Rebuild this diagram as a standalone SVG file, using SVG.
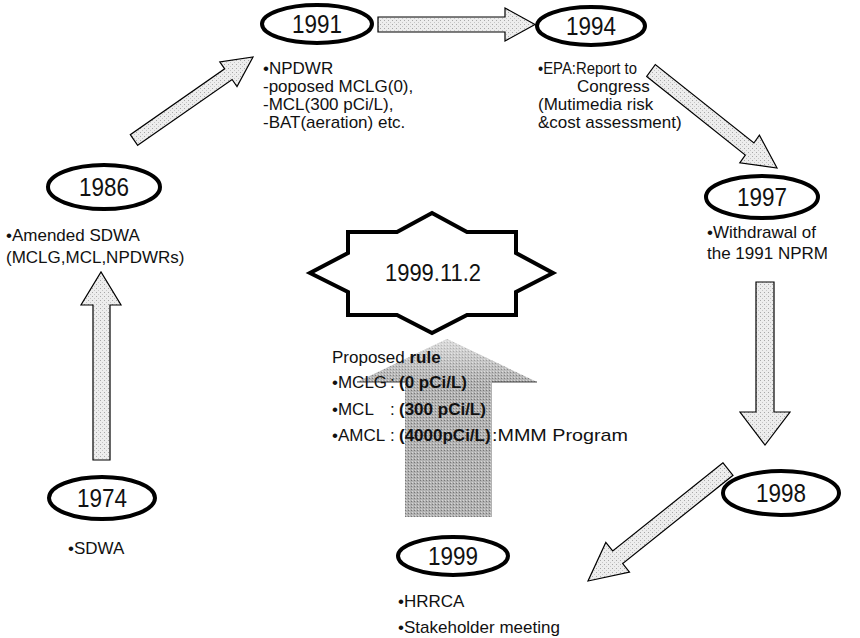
<svg xmlns="http://www.w3.org/2000/svg" width="860" height="638" viewBox="0 0 860 638">
<defs>
<pattern id="dots" width="4" height="4" patternUnits="userSpaceOnUse">
<rect width="4" height="4" fill="#ededed"/>
<rect x="0" y="0" width="1" height="1" fill="#a8a8a8"/>
<rect x="2" y="2" width="1" height="1" fill="#c6c6c6"/>
</pattern>
<pattern id="dark" width="3" height="3" patternUnits="userSpaceOnUse">
<rect width="3" height="3" fill="#b2b2b2"/>
<rect x="0" y="0" width="1" height="1" fill="#777"/>
<rect x="1" y="2" width="1" height="1" fill="#d6d6d6"/>
</pattern>
<linearGradient id="fade" x1="0" y1="0" x2="0" y2="1">
<stop offset="0" stop-color="#fff" stop-opacity="0.55"/>
<stop offset="1" stop-color="#fff" stop-opacity="0"/>
</linearGradient>
</defs>
<style>
.ell{fill:#fff;stroke:#000;stroke-width:4}
.yr{font-family:"Liberation Sans",Arial,sans-serif;font-size:25px;fill:#111;text-anchor:middle}
.note{font-family:"Liberation Sans",Arial,sans-serif;font-size:17px;fill:#111}
.arr{fill:url(#dots);stroke:#000;stroke-width:1.2;stroke-linejoin:miter}
.big{fill:url(#dark);stroke:none}
.star{fill:#fff;stroke:#000;stroke-width:4;stroke-linejoin:miter}
.b{font-weight:bold}
</style>
<rect width="860" height="638" fill="#fff"/>

<g id="connectors">
<polygon class="arr" points="137.7,145.3 232.1,79.5 237.0,86.5 253,57 219.8,61.9 224.7,68.8 130.3,134.7"/>
<polygon class="arr" points="378,17 505,17 505,8 535,24.5 505,41 505,32 378,32"/>
<polygon class="arr" points="646.7,76.5 745.3,155.0 739.8,162.9 777,168 759.4,135.2 753.9,143.0 655.3,64.5"/>
<polygon class="arr" points="756,282 774,282 774,412 790,412 765,445 740,412 756,412"/>
<polygon class="arr" points="723.0,462.8 612.7,551.0 605.8,542.4 588,581 629.5,572.1 622.7,563.5 733.0,475.3"/>
<polygon class="arr" points="93,460 93,305 81,305 101,272 121,305 110,305 110,460"/>
<polygon class="big" points="405,517 405,382 357,382 447,339 537,382 492,382 492,517"/>
<polygon points="357,382 447,339 537,382" fill="url(#fade)"/>
<polyline points="357,382 405,382" fill="none" stroke="#444" stroke-width="1"/>
<polyline points="492,382 537,382" fill="none" stroke="#444" stroke-width="1"/>
</g>

<g id="n1974">
<ellipse class="ell" cx="102" cy="498" rx="53" ry="21"/>
<text class="yr" x="102" y="507" textLength="50" lengthAdjust="spacingAndGlyphs">1974</text>
<text class="note" x="68" y="554">•SDWA</text>
</g>

<g id="n1986">
<ellipse class="ell" cx="104" cy="187" rx="56" ry="22"/>
<text class="yr" x="104" y="196" textLength="50" lengthAdjust="spacingAndGlyphs">1986</text>
<text class="note" x="6" y="241">•Amended SDWA</text>
<text class="note" x="6" y="263">(MCLG,MCL,NPDWRs)</text>
</g>

<g id="n1991">
<ellipse class="ell" cx="317" cy="24" rx="55" ry="19"/>
<text class="yr" x="317" y="33" textLength="50" lengthAdjust="spacingAndGlyphs">1991</text>
<text class="note" x="263" y="74">•NPDWR</text>
<text class="note" x="263" y="92">-poposed MCLG(0),</text>
<text class="note" x="263" y="110">-MCL(300 pCi/L),</text>
<text class="note" x="263" y="128">-BAT(aeration) etc.</text>
</g>

<g id="n1994">
<ellipse class="ell" cx="591" cy="26" rx="54" ry="19"/>
<text class="yr" x="591" y="35" textLength="50" lengthAdjust="spacingAndGlyphs">1994</text>
<text class="note" x="538" y="74" textLength="99" lengthAdjust="spacingAndGlyphs">•EPA:Report to</text>
<text class="note" x="577" y="92">Congress</text>
<text class="note" x="538" y="110">(Mutimedia risk</text>
<text class="note" x="538" y="128">&amp;cost assessment)</text>
</g>

<g id="n1997">
<ellipse class="ell" cx="762" cy="197" rx="56" ry="21"/>
<text class="yr" x="762" y="206" textLength="50" lengthAdjust="spacingAndGlyphs">1997</text>
<text class="note" x="707" y="238">•Withdrawal of</text>
<text class="note" x="707" y="259">the 1991 NPRM</text>
</g>

<g id="n1998">
<ellipse class="ell" cx="781" cy="493" rx="58" ry="22"/>
<text class="yr" x="781" y="502" textLength="50" lengthAdjust="spacingAndGlyphs">1998</text>
</g>

<g id="n1999">
<ellipse class="ell" cx="453" cy="556" rx="55" ry="19"/>
<text class="yr" x="453" y="565" textLength="50" lengthAdjust="spacingAndGlyphs">1999</text>
<text class="note" x="398" y="607">•HRRCA</text>
<text class="note" x="398" y="633">•Stakeholder meeting</text>
</g>

<g id="n19991102">
<polygon class="star" points="432,213 467,232 516,232 516,253 553,273 516,292 516,315 467,315 432,333 397,315 348,315 348,292 310,273 348,253 348,232 397,232"/>
<text class="yr" x="433" y="281" textLength="96" lengthAdjust="spacingAndGlyphs" style="font-size:23px">1999.11.2</text>
</g>

<g id="proposed">
<text class="note" x="332" y="363">Proposed <tspan class="b">rule</tspan></text>
<text class="note" y="388"><tspan x="332">•MCLG</tspan><tspan x="390">:</tspan><tspan x="399" class="b">(0 pCi/L)</tspan></text>
<text class="note" y="415"><tspan x="332">•MCL</tspan><tspan x="390">:</tspan><tspan x="399" class="b">(300 pCi/L)</tspan></text>
<text class="note" y="441"><tspan x="332">•AMCL</tspan><tspan x="390">:</tspan><tspan x="399" class="b">(4000pCi/L)</tspan><tspan x="492" textLength="136" lengthAdjust="spacingAndGlyphs">:MMM Program</tspan></text>
</g>
</svg>
